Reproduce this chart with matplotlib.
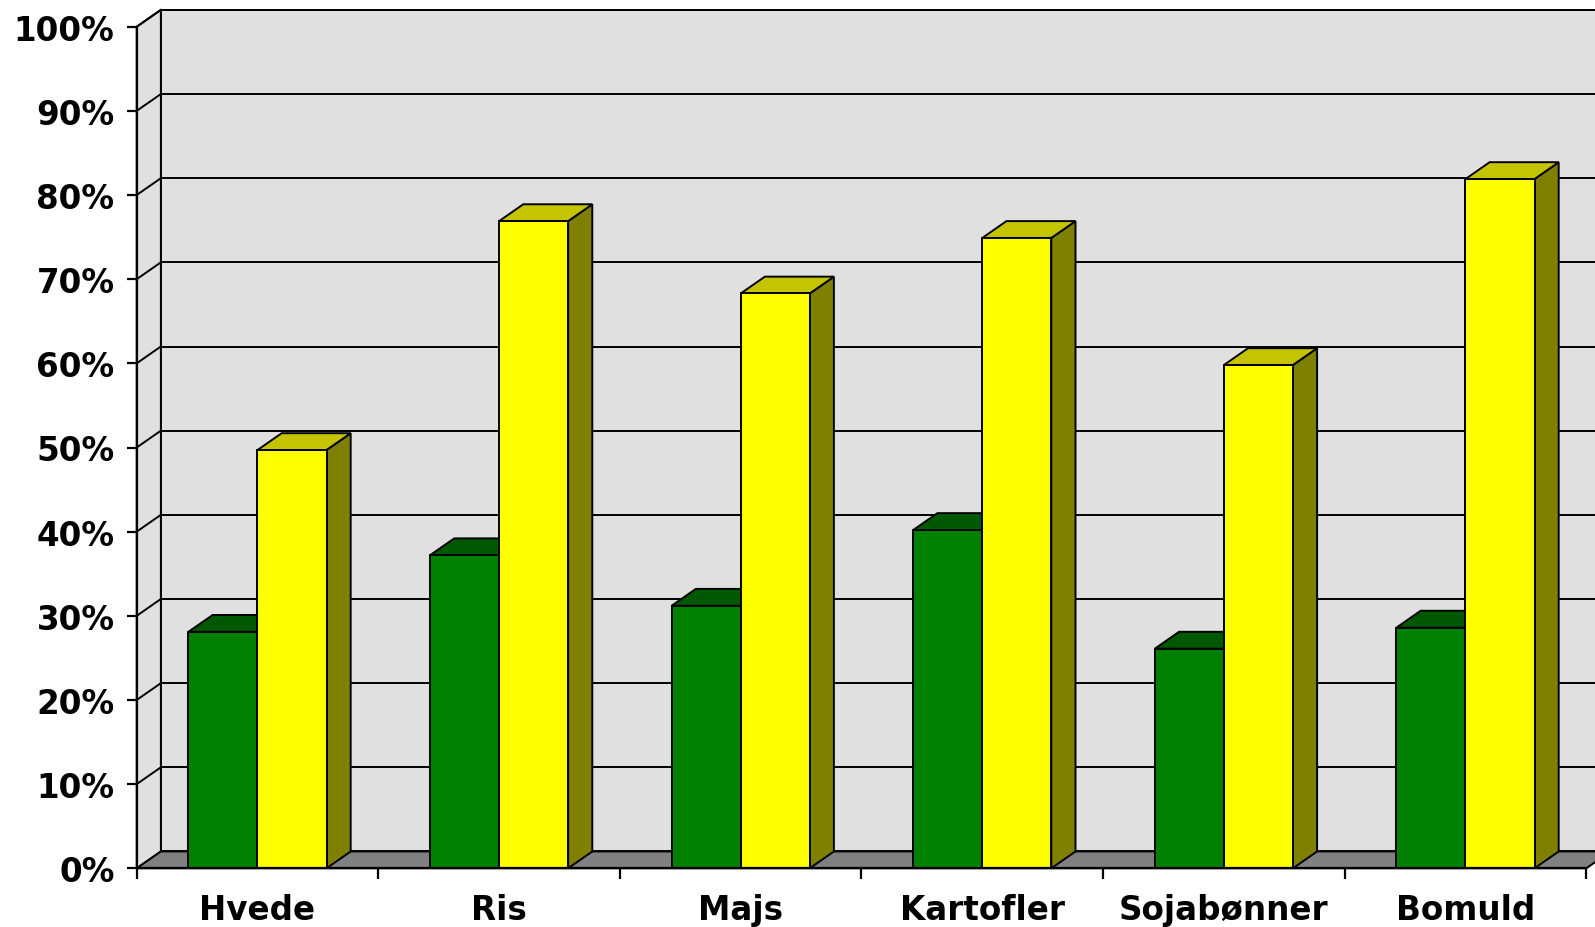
import matplotlib
matplotlib.use('Agg')
import matplotlib.pyplot as plt
from matplotlib.patches import Polygon

# data
categories = ['Hvede', 'Ris', 'Majs', 'Kartofler', 'Sojabønner', 'Bomuld']
green_vals = [28.1, 37.2, 31.2, 40.2, 26.1, 28.6]
yellow_vals = [49.7, 76.9, 68.3, 74.9, 59.8, 81.9]
y_ticks = [0, 10, 20, 30, 40, 50, 60, 70, 80, 90, 100]
y_labels = ['0%', '10%', '20%', '30%', '40%', '50%', '60%', '70%', '80%', '90%', '100%']

# fake 3d depth (in data units) and bar layout
DX, DY = 0.1, 2.0
BW = 2 / 7
GAP = 1.5 / 7
LW = 1.4
WALL = '#e0e0e0'

plt.rcParams['font.family'] = ['DejaVu Sans']

fig = plt.figure(figsize=(15.95, 9.28), dpi=100)
ax = fig.add_axes([136.7 / 1595, 58.7 / 928, 1449.6 / 1595, 841.6 / 928])
n = len(categories)
ax.set_xlim(0, n)
ax.set_ylim(0, 100)


def poly(pts, fc, z):
    ax.add_patch(Polygon(pts, closed=True, fc=fc, ec='black', lw=LW,
                         joinstyle='miter', zorder=z, clip_on=False))


# walls and floor
poly([(0, 0), (DX, DY), (DX, 100 + DY), (0, 100)], WALL, 0.5)
poly([(DX, DY), (n + DX, DY), (n + DX, 100 + DY), (DX, 100 + DY)], WALL, 0.5)
for v in y_ticks[1:]:
    ax.plot([DX, n + DX], [v + DY, v + DY], color='black', lw=LW, zorder=0.8, clip_on=False)
    ax.plot([0, DX], [v, v + DY], color='black', lw=LW, zorder=0.8, clip_on=False)
poly([(0, 0), (n, 0), (n + DX, DY), (DX, DY)], '#808080', 0.9)

# bars
series = [
    (green_vals, GAP, '#008000', '#005900', '#004000', 3),
    (yellow_vals, GAP + BW, '#ffff00', '#c4c400', '#808000', 5),
]
for vals, off, front, top, side, z in series:
    xs = [i + off for i in range(n)]
    for x0, v in zip(xs, vals):
        x1 = x0 + BW
        poly([(x1, 0), (x1 + DX, DY), (x1 + DX, v + DY), (x1, v)], side, z)
        poly([(x0, v), (x1, v), (x1 + DX, v + DY), (x0 + DX, v + DY)], top, z)
    ax.bar(xs, vals, width=BW, align='edge', color=front, edgecolor='black',
           linewidth=LW, zorder=z + 0.5, clip_on=False)

# axes styling
for s in ['top', 'right']:
    ax.spines[s].set_visible(False)
for s in ['left', 'bottom']:
    ax.spines[s].set_linewidth(1.6)
    ax.spines[s].set_zorder(10)
ax.set_facecolor('none')

ax.set_yticks(y_ticks)
ax.set_yticklabels(y_labels, fontsize=23.5, fontweight='bold')
ax.tick_params(axis='y', direction='out', length=7.5, width=1.6, pad=8.5)

ax.set_xticks(range(n + 1))
ax.set_xticklabels([''] * (n + 1))
ax.set_xticks([i + 0.5 for i in range(n)], minor=True)
ax.set_xticklabels(categories, minor=True, fontsize=23.5, fontweight='bold')
ax.tick_params(axis='x', which='major', direction='out', length=8, width=1.6)
ax.tick_params(axis='x', which='minor', length=0, pad=18)

fig.savefig('out.png', dpi=100, facecolor='white')
